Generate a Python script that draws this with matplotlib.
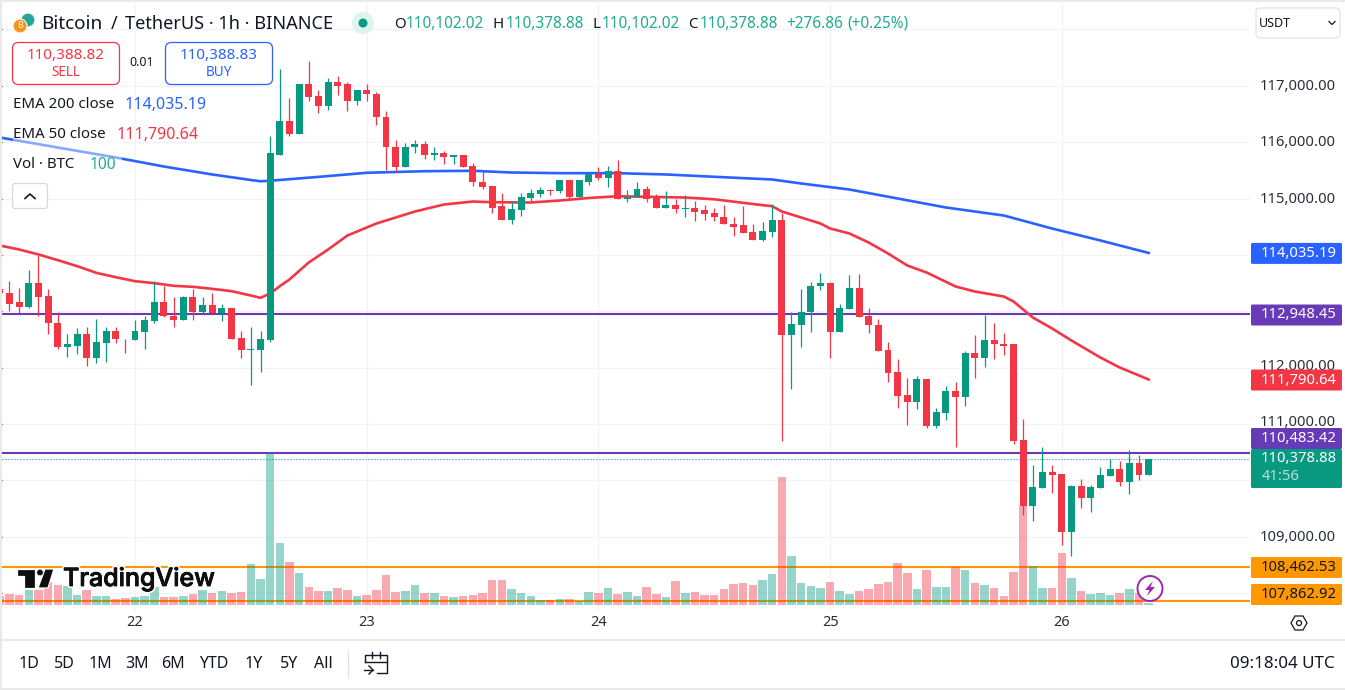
import numpy as np
import matplotlib
matplotlib.use("Agg")
import matplotlib.pyplot as plt
import matplotlib.patheffects as pe
from matplotlib.patches import FancyBboxPatch, Circle, Polygon, Rectangle

plt.rcParams['font.family'] = ['Noto Sans', 'DejaVu Sans']

# hourly candles, hour 0 is the 22nd at 00:00
opens = [113387, 113333, 113156, 113085, 113493, 113280, 112801, 112358, 112393, 112606, 112180, 112429, 112642, 112517,
         112482, 112624, 112819, 113156, 112925, 112837, 113245, 112979, 113103, 112961, 113050, 112535, 112305, 112322,
         112482, 115781, 116367, 116136, 117023, 116810, 116633, 117059, 117023, 116739, 116934, 116863, 116455, 115923,
         115551, 115906, 115959, 115764, 115799, 115728, 115764, 115569, 115302, 115214, 114859, 114611, 114788, 115001,
         115072, 115143, 115125, 115320, 115019, 115302, 115444, 115356, 115480, 114983, 115019, 115178, 115001, 114841,
         114894, 114823, 114841, 114788, 114735, 114681, 114557, 114522, 114398, 114256, 114415, 114628, 112588, 112748,
         112979, 113440, 113493, 112624, 113049, 113422, 112925, 112765, 112322, 111932, 111524, 111399, 111807, 110974,
         111204, 111595, 111488, 112269, 112180, 112499, 112428, 112411, 110725, 109554, 109874, 110158, 110122, 109093,
         109909, 109697, 109874, 110087, 110211, 109980, 110317, 110102.02]
closes = [113316, 113138, 113085, 113493, 113262, 112784, 112358, 112411, 112606, 112180, 112447, 112642, 112500, 112500,
          112642, 112837, 113156, 112908, 112837, 113245, 112979, 113103, 112961, 113050, 112517, 112305, 112340, 112500,
          115799, 116367, 116136, 117023, 116793, 116633, 117059, 117005, 116739, 116934, 116846, 116438, 115906, 115551,
          115923, 115959, 115764, 115799, 115728, 115764, 115551, 115285, 115196, 114841, 114611, 114806, 115019, 115090,
          115143, 115125, 115320, 115019, 115320, 115444, 115356, 115480, 114983, 115036, 115178, 114983, 114841, 114894,
          114823, 114841, 114770, 114717, 114664, 114540, 114504, 114380, 114256, 114433, 114628, 112588, 112766, 112996,
          113457, 113493, 112624, 113067, 113422, 112907, 112748, 112304, 111914, 111506, 111399, 111807, 110974, 111222,
          111595, 111488, 112269, 112180, 112499, 112411, 112393, 110708, 109554, 109892, 110158, 110104, 109093, 109909,
          109697, 109892, 110104, 110211, 109980, 110317, 110102, 110378.88]
highs = [113387, 113546, 113422, 113724, 113990, 113387, 112979, 112606, 112695, 112730, 112872, 112730, 112713, 112517,
         112837, 112925, 113529, 113440, 113262, 113280, 113404, 113245, 113316, 113138, 113067, 112642, 112713, 112659,
         116118, 117289, 116775, 117023, 117431, 116917, 117130, 117165, 117059, 116934, 117023, 116881, 116544, 116047,
         115977, 116030, 116012, 115923, 115852, 115781, 115781, 115622, 115480, 115214, 115090, 114965, 115090, 115161,
         115196, 115178, 115320, 115320, 115320, 115444, 115551, 115586, 115675, 115160, 115285, 115214, 115072, 115125,
         114983, 115054, 114965, 114894, 114841, 114877, 114664, 114859, 114540, 114575, 114912, 114752, 112996, 113404,
         113511, 113688, 113511, 113138, 113635, 113670, 113067, 112872, 112464, 112162, 111825, 111861, 111807, 111293,
         111683, 111754, 112304, 112588, 112943, 112801, 112623, 112428, 111098, 110282, 110601, 110282, 110122, 109927,
         110033, 109927, 110246, 110388, 110353, 110548, 110459, 110378.88]
lows = [113316, 113006, 112961, 113067, 112925, 112606, 112340, 112198, 112234, 112021, 112074, 112109, 112429, 112269,
        112482, 112340, 112784, 112890, 112713, 112837, 112854, 112961, 112961, 112819, 112517, 112180, 111684, 111932,
        112464, 115781, 116118, 116136, 116739, 116526, 116562, 116828, 116544, 116668, 116722, 116296, 115498, 115462,
        115551, 115799, 115693, 115675, 115604, 115604, 115551, 115231, 115178, 114735, 114611, 114557, 114682, 114948,
        115036, 115054, 115107, 114983, 115019, 115249, 115320, 115196, 114983, 114930, 115019, 114930, 114841, 114841,
        114752, 114664, 114593, 114628, 114593, 114540, 114344, 114380, 114256, 114238, 114309, 110708, 111630, 112375,
        112624, 113369, 112163, 112624, 113049, 112907, 112623, 112304, 111754, 111293, 110991, 111258, 110938, 110938,
        111080, 110601, 111328, 111825, 112020, 112162, 112233, 110654, 109395, 109288, 109874, 109785, 108863, 108668,
        109519, 109448, 109874, 110087, 109909, 109767, 110016, 110102.02]
volumes = [270, 330, 300, 450, 450, 690, 600, 570, 300, 450, 270, 270, 180, 210,
           240, 270, 540, 240, 240, 270, 330, 450, 360, 420, 360, 390, 1230, 780,
           4550, 1860, 1290, 960, 540, 420, 420, 510, 450, 270, 300, 450, 900, 390,
           420, 600, 360, 360, 270, 240, 270, 300, 360, 750, 750, 480, 360, 270,
           150, 150, 180, 180, 120, 390, 360, 510, 330, 390, 270, 540, 330, 240,
           720, 360, 390, 300, 300, 480, 630, 660, 600, 750, 930, 3840, 1470, 660,
           570, 510, 690, 420, 330, 420, 480, 630, 690, 1260, 960, 480, 1050, 540,
           540, 1140, 1050, 660, 600, 510, 270, 990, 2970, 1170, 510, 510, 1560, 810,
           420, 330, 360, 300, 360, 480, 360, 70]

ema50_hours = [-14, -12, -10, -8, -6, -4, -2, 0, 2, 4, 6, 8, 10, 12, 13, 14, 15, 16, 18, 20, 22, 24, 25, 29, 32, 35, 37,
               41, 44, 47, 50, 53, 57, 60, 64, 66, 67, 69, 71, 72, 74, 76, 78, 80, 82, 85, 87, 90, 91, 93, 95, 97, 100,
               102, 105]
ema50 = [114167, 114096, 114008, 113907, 113801, 113682, 113605, 113534, 113499, 113452, 113434, 113398, 113357, 113280,
         113239, 113316, 113446, 113564, 113866, 114096, 114344, 114486, 114557, 114770, 114894, 114947, 114935, 114930,
         114965, 115010, 115041, 115031, 115018, 114987, 114903, 114864, 114770, 114664, 114557, 114469, 114380, 114220,
         114025, 113812, 113688, 113440, 113351, 113262, 113174, 112890, 112695, 112482, 112180, 112003, 111790.64]
ema200_hours = [-14, -8, -2, 3, 8, 12, 13, 14, 19, 24, 30, 35, 39, 44, 50, 55, 60, 66, 69, 74, 79, 84, 90, 95, 100, 105]
ema200 = [116083, 115905, 115728, 115568, 115427, 115329, 115307, 115316, 115384, 115457, 115485, 115492, 115462, 115450,
          115450, 115427, 115386, 115338, 115267, 115160, 115001, 114841, 114699, 114468, 114256, 114035.19]

purple_levels = [112948.45, 110483.42]
orange_levels = [108462.53, 107862.92]
last_price = 110378.88
price_ticks = [108000, 109000, 110000, 111000, 112000, 113000, 114000, 115000, 116000, 117000, 118000]
price_labels = [109000, 111000, 112000, 115000, 116000, 117000]
day_hours = [0, 24, 48, 72, 96]
day_labels = ['22', '23', '24', '25', '26']

GREEN = '#089981'
TEAL = '#22ab94'
RED = '#f23645'
BLUE = '#2962ff'
PURPLE = '#673ab7'
ORANGE = '#ff9800'
INK = '#131722'
GRID = '#f2f3f5'


def fs(px):
    return px * 0.72


fig = plt.figure(figsize=(13.45, 6.9), dpi=100, facecolor='white')

# price pane spans 2..1250 px across and 3..611 px down
ax = fig.add_axes([2 / 1345, 1 - 611 / 690, 1248 / 1345, 608 / 690])
ax.set_xlim((2 - 135) / 9.654, (1250 - 135) / 9.654)
ax.set_ylim(118521.7 - 17.738 * 611, 118521.7 - 17.738 * 3)
for s in ax.spines.values():
    s.set_visible(False)
ax.tick_params(left=False, bottom=False, labelleft=False, labelbottom=False)
ax.set_xticks(day_hours)
ax.set_yticks(price_ticks)
ax.grid(True, color=GRID, lw=0.9)
ax.set_axisbelow(True)

hours = np.arange(len(opens)) - 14
opens = np.array(opens)
closes = np.array(closes)
colors = [GREEN if c >= o else RED for o, c in zip(opens, closes)]

for p in purple_levels:
    ax.axhline(p, color=PURPLE, lw=1.5, zorder=2)
for p in orange_levels:
    ax.axhline(p, color=ORANGE, lw=1.5, zorder=2)
ax.axhline(last_price, color=GREEN, lw=0.9, ls=(0, (0.8, 1.6)), zorder=2)

# volume pane shares the same area, baseline near the bottom edge
vol = ax.twinx()
vol.set_ylim(-6 * 30, 602 * 30)
vol.axis('off')
vol.set_zorder(1)
ax.set_zorder(0)
vol.bar(hours, volumes, width=0.88, color=colors, alpha=0.42, lw=0)

top = fig.add_axes(ax.get_position(), sharex=ax, sharey=ax)
top.axis('off')
top.set_zorder(2)
top.plot(ema50_hours, ema50, color=RED, lw=1.9, zorder=3, solid_joinstyle='round')
top.plot(ema200_hours, ema200, color=BLUE, lw=1.9, zorder=3, solid_joinstyle='round')
top.vlines(hours, lows, highs, colors=colors, lw=0.9, zorder=4)
top.bar(hours, np.abs(closes - opens), bottom=np.minimum(opens, closes), width=0.72, color=colors, lw=0, zorder=5)

# everything else is laid out in pixel coordinates on an overlay
ui = fig.add_axes([0, 0, 1, 1], facecolor='none')
ui.set_xlim(0, 1345)
ui.set_ylim(690, 0)
ui.axis('off')
ui.set_zorder(3)

ui.add_patch(Rectangle((0, 0), 1345, 2, color='#e9e9ea', lw=0))
ui.add_patch(Rectangle((0, 0), 2, 690, color='#e9e9ea', lw=0))
ui.add_patch(Rectangle((0, 688), 1345, 2, color='#e9e9ea', lw=0))
ui.plot([2, 1345], [639.5, 639.5], color='#e3e4e7', lw=1.2)


def label(x, y, s, color=INK, px=14, ha='left', **kw):
    # Noto Sans sits a little high when centred, nudge it down
    return ui.text(x, y + 1, s, color=color, fontsize=fs(px), ha=ha, va='center', **kw)


def box(x0, y0, x1, y1, fc='white', ec='none', r=2, lw=1.0, zorder=1):
    ui.add_patch(FancyBboxPatch((x0 + r, y0 + r), x1 - x0 - 2 * r, y1 - y0 - 2 * r,
                                boxstyle=f'round,pad={r},rounding_size={r}', fc=fc, ec=ec, lw=lw, zorder=zorder))


# symbol icons and title row
ui.add_patch(Circle((28, 20), 7, fc='#26a69a', ec='white', lw=0.8))
ui.add_patch(Circle((20, 26), 7, fc='#f7931a', ec='white', lw=0.8))
label(20, 25, 'B', color='white', px=9, ha='center', fontweight='bold')
label(41, 23, 'Bitcoin', px=19)
label(111, 23, '/', px=18)
label(125, 23, 'TetherUS · 1h · BINANCE', px=18.2)
ui.add_patch(Circle((363, 23), 11, fc='#dff3ef', lw=0))
ui.add_patch(Circle((363, 23), 4.5, fc=GREEN, lw=0))

ohlc_parts = [(394, 'O', INK, 15), (406, '110,102.02', TEAL, 15.4), (493, 'H', INK, 15), (506, '110,378.88', TEAL, 15.4),
              (592, 'L', INK, 15), (602, '110,102.02', TEAL, 15.4), (688, 'C', INK, 15), (700, '110,378.88', TEAL, 15.4),
              (786, '+276.86', TEAL, 15.4), (847, '(+0.25%)', TEAL, 15.4)]
for x, s, c, size in ohlc_parts:
    label(x, 23, s, color=c, px=size)

# sell / buy buttons
box(12.5, 42.5, 119.5, 84.5, ec=RED, r=6, lw=0.9)
label(66, 54.5, '110,388.82', color=RED, px=15.2, ha='center', fontweight='semibold')
label(66, 71.5, 'SELL', color=RED, px=13.5, ha='center')
label(142, 62, '0.01', px=12.5, ha='center')
box(165.5, 42.5, 272.5, 84.5, ec=BLUE, r=6, lw=0.9)
label(219, 54.5, '110,388.83', color=BLUE, px=15.2, ha='center', fontweight='semibold')
label(219, 71.5, 'BUY', color=BLUE, px=13.5, ha='center')

# legend rows wash out the line running behind them
ui.add_patch(Rectangle((13, 122), 109, 58, fc='white', alpha=0.45, lw=0))
label(13, 104, 'EMA 200 close', px=15)
label(125, 104, '114,035.19', color=BLUE, px=16)
label(13, 134, 'EMA 50 close', px=15)
label(117, 134, '111,790.64', color=RED, px=16)
label(13, 164, 'Vol · BTC', px=15)
label(90, 164, '100', color=TEAL, px=15.5)
box(12.5, 183.5, 47.5, 208.5, ec='#d6d8dc', r=3, lw=0.9)
ui.plot([25, 30, 35], [198.5, 194, 198.5], color=INK, lw=1.2)

box(1256, 8, 1340, 38, ec='#e0e3eb', r=4, lw=0.9)
label(1259, 22.5, 'USDT', px=12.5)
ui.plot([1329, 1332, 1335], [21.5, 24.5, 21.5], color=INK, lw=0.9)

# price scale, the 112,000 and 111,000 labels sit just above their neighbouring tags
for p in price_labels:
    y = (118530.6 - p) / 17.738 - 1
    if p in (111000, 112000):
        y -= 2
    label(1298, y, f'{p:,.2f}', color='#2a2e39', px=14.8, ha='center', zorder=2)

tags = [(253.4, '114,035.19', BLUE, 'white'), (315.0, '112,948.45', PURPLE, 'white'),
        (380.0, '111,790.64', RED, 'white'), (438.5, '110,483.42', PURPLE, 'white'),
        (567.5, '108,462.53', ORANGE, INK), (594.5, '107,862.92', ORANGE, INK)]
for y, s, bg, fg in tags:
    box(1251, y - 10.5, 1342, y + 10.5, fc=bg, r=1.5, zorder=4)
    label(1299, y - 1, s, color=fg, px=14.8, ha='center', zorder=5)
box(1251, 449, 1342, 488, fc=GREEN, r=1.5, zorder=4)
label(1299, 458, '110,378.88', color='white', px=14.8, ha='center', zorder=5)
label(1262, 476, '41:56', color='#b5e0d8', px=14.8, zorder=5)

# day labels under the pane
for h, s in zip(day_hours, day_labels):
    label(135 + 9.654 * h, 621, s, color='#2a2e39', px=14.5, ha='center')

# scale settings hexagon
ui.add_patch(Polygon([(1291, 623), (1295, 616), (1303, 616), (1307, 623), (1303, 630), (1295, 630)],
                     fc='white', ec=INK, lw=0.9))
ui.add_patch(Circle((1299, 623), 2.5, fc='white', ec=INK, lw=0.9))

# watermark
halo = [pe.withStroke(linewidth=3, foreground='white'), pe.withStroke(linewidth=0.6, foreground='#0f0f0f')]
logo_shapes = [[(17, 569), (35, 569), (35, 588), (24, 588), (24, 576), (17, 576)],
               [(45, 569), (54, 569), (48, 588), (38, 588)]]
for pts in logo_shapes:
    ui.add_patch(Polygon(pts, fc='#0f0f0f', ec='white', lw=0.9))
ui.add_patch(Circle((40, 572.5), 3.3, fc='#0f0f0f', ec='white', lw=0.5))
label(63, 578, 'TradingView', color='#0f0f0f', px=25, fontfamily='Inter', fontweight='medium', path_effects=halo)

# purple lightning badge
ui.add_patch(Circle((1150, 588.5), 12.5, fc='white', ec='#9c27b0', lw=1.4))
ui.add_patch(Polygon([(1153, 581), (1145, 590), (1149.5, 590), (1147, 596), (1155, 587), (1150.5, 587)],
                     fc='#9c27b0', lw=0))

# bottom range bar
ranges = ['1D', '5D', '1M', '3M', '6M', 'YTD', '1Y', '5Y', 'All']
range_x = [29, 64, 100, 137, 173, 214, 254, 289, 323]
for x, s in zip(range_x, ranges):
    label(x, 663, s, px=16, ha='center')
ui.plot([348, 348], [651, 677], color='#e0e3eb', lw=1)

# calendar with arrow, the frame stays open at the lower left
ui.plot([365, 365, 387, 387, 377], [662, 655, 655, 673, 673], color=INK, lw=1.0)
ui.plot([365, 387], [661.5, 661.5], color=INK, lw=1.0)
ui.plot([372, 372], [652, 658], color=INK, lw=1.0)
ui.plot([380, 380], [652, 658], color=INK, lw=1.0)
ui.plot([364, 373], [670, 670], color=INK, lw=1.0)
ui.plot([369, 373, 369], [666, 670, 674], color=INK, lw=1.0)
label(1335, 663, '09:18:04 UTC', px=17, ha='right')

fig.savefig('out.png', dpi=100)
